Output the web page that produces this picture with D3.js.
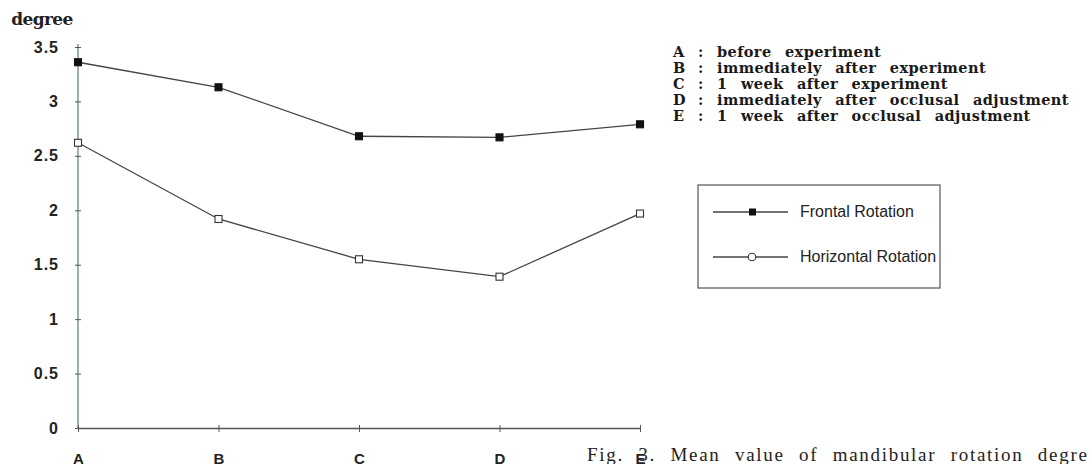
<!DOCTYPE html>
<html>
<head>
<meta charset="utf-8">
<script src="https://cdn.jsdelivr.net/npm/d3@7"></script>
<style>
    body { margin: 0; background: #fff; }
    svg { display: block; }
</style>
</head>
<body>
<script>
    // data
    var categories = ["A", "B", "C", "D", "E"];
    var frontal = [3.36, 3.13, 2.68, 2.67, 2.79];
    var horizontal = [2.62, 1.92, 1.55, 1.39, 1.97];
    var yTicks = [0, 0.5, 1, 1.5, 2, 2.5, 3, 3.5];
    var stageNotes = [
        ["A", "before experiment"],
        ["B", "immediately after experiment"],
        ["C", "1 week after experiment"],
        ["D", "immediately after occlusal adjustment"],
        ["E", "1 week after occlusal adjustment"]
    ];
    var seriesNames = ["Frontal Rotation", "Horizontal Rotation"];
    var caption = "Fig. 3. Mean value of mandibular rotation degree";

    var width = 1089, height = 464;
    var lineColor = "#444";

    var svg = d3.select("body").append("svg")
        .attr("width", width)
        .attr("height", height);

    var x = d3.scalePoint().domain(categories).range([78, 640]);
    var y = d3.scaleLinear().domain([0, 3.5]).range([428, 47]);

    // y axis
    var yAxis = svg.append("g")
        .attr("transform", "translate(78,0)")
        .call(d3.axisLeft(y).tickValues(yTicks).tickSizeOuter(0).tickPadding(13)
            .tickFormat(function (d) { return d; }));
    yAxis.select(".domain").attr("stroke", "#62857f").attr("stroke-width", 1.3)
        .attr("d", "M0," + y(0) + "V" + (y(3.5) - 3));
    yAxis.selectAll(".tick line").attr("x1", -3).attr("x2", 3).attr("stroke", "#555");
    yAxis.selectAll(".tick text")
        .style("font-family", "Liberation Sans, Arial, sans-serif")
        .style("font-weight", "bold")
        .style("font-size", "16px")
        .style("letter-spacing", "1px")
        .attr("fill", "#222");

    // x axis
    var xAxis = svg.append("g")
        .attr("transform", "translate(0," + y(0) + ")")
        .call(d3.axisBottom(x).tickSizeOuter(0).tickPadding(19));
    xAxis.select(".domain").attr("stroke", "#555").attr("stroke-width", 1.3);
    xAxis.selectAll(".tick line").attr("y1", -3).attr("y2", 4).attr("stroke", "#555");
    xAxis.selectAll(".tick text")
        .style("font-family", "Liberation Sans, Arial, sans-serif")
        .style("font-weight", "bold")
        .style("font-size", "15px")
        .attr("fill", "#222");

    // unit label
    svg.append("text")
        .attr("x", 42).attr("y", 25)
        .attr("text-anchor", "middle")
        .style("font-family", "DejaVu Serif, serif")
        .style("font-weight", "bold")
        .style("font-size", "17px")
        .style("letter-spacing", "-0.6px")
        .attr("fill", "#222")
        .text("degree");

    var line = d3.line()
        .x(function (d, i) { return x(categories[i]); })
        .y(function (d) { return y(d); });

    function drawSeries(values, fill) {
        svg.append("path")
            .datum(values)
            .attr("d", line)
            .attr("fill", "none")
            .attr("stroke", lineColor)
            .attr("stroke-width", 1.3);
        svg.append("g").selectAll("rect")
            .data(values)
            .join("rect")
            .attr("x", function (d, i) { return x(categories[i]) - 3.5; })
            .attr("y", function (d) { return y(d) - 3.5; })
            .attr("width", 7)
            .attr("height", 7)
            .attr("fill", fill)
            .attr("stroke", fill === "#fff" ? "#333" : "#111")
            .attr("stroke-width", 1.1);
    }

    drawSeries(horizontal, "#fff");
    drawSeries(frontal, "#111");

    // stage descriptions
    var notes = svg.append("g")
        .style("font-family", "DejaVu Serif, serif")
        .style("font-weight", "bold")
        .style("font-size", "14.5px")
        .attr("fill", "#1a1a1a");
    stageNotes.forEach(function (n, i) {
        var yy = 57 + i * 16;
        notes.append("text").attr("x", 673).attr("y", yy).text(n[0]);
        notes.append("text").attr("x", 698).attr("y", yy).text(":");
        notes.append("text").attr("x", 717).attr("y", yy)
            .style("letter-spacing", "0.4px")
            .style("word-spacing", "8px")
            .text(n[1]);
    });

    // legend box
    var legend = svg.append("g");
    legend.append("rect")
        .attr("x", 698).attr("y", 185)
        .attr("width", 242).attr("height", 103)
        .attr("fill", "none")
        .attr("stroke", "#555")
        .attr("stroke-width", 1.2);
    seriesNames.forEach(function (name, i) {
        var ly = 212 + i * 45;
        legend.append("line")
            .attr("x1", 713).attr("x2", 788)
            .attr("y1", ly).attr("y2", ly)
            .attr("stroke", lineColor).attr("stroke-width", 1.3);
        if (i === 0) {
            legend.append("rect")
                .attr("x", 749).attr("y", ly - 3.5).attr("width", 7).attr("height", 7)
                .attr("fill", "#111");
        } else {
            legend.append("circle")
                .attr("cx", 752).attr("cy", ly).attr("r", 3.8)
                .attr("fill", "#fff").attr("stroke", "#333").attr("stroke-width", 1.1);
        }
        legend.append("text")
            .attr("x", 800).attr("y", ly + 5)
            .style("font-family", "Liberation Sans, Arial, sans-serif")
            .style("font-size", "16px")
            .attr("fill", "#222")
            .text(name);
    });

    // caption (runs off the right edge like the scan)
    svg.append("text")
        .attr("x", 587).attr("y", 461)
        .style("font-family", "Liberation Serif, Times New Roman, serif")
        .style("font-size", "19px")
        .style("letter-spacing", "1.7px")
        .style("word-spacing", "8px")
        .attr("fill", "#222")
        .text(caption);
</script>
</body>
</html>
